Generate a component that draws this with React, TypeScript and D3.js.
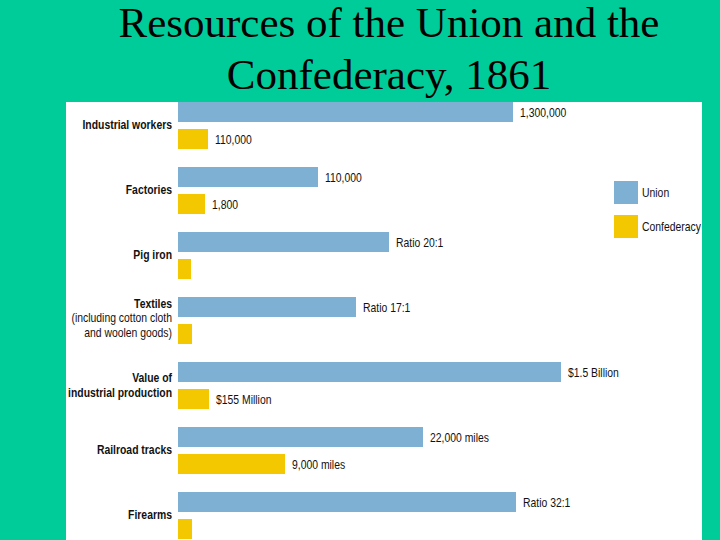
import React from "react";
import * as d3 from "d3";

const categories = [
  "Industrial workers",
  "Factories",
  "Pig iron",
  "Textiles",
  "Value of industrial production",
  "Railroad tracks",
  "Firearms",
];
const categoryLines: string[][] = [
  ["Industrial workers"],
  ["Factories"],
  ["Pig iron"],
  ["Textiles", "(including cotton cloth", "and woolen goods)"],
  ["Value of", "industrial production"],
  ["Railroad tracks"],
  ["Firearms"],
];
const series = ["Union", "Confederacy"];
// relative bar lengths as drawn in the original graphic
const unionValues = [335, 140, 211, 178, 383, 245, 338];
const confederacyValues = [30, 27, 13, 14, 31, 107, 14];
const unionLabels = ["1,300,000", "110,000", "Ratio 20:1", "Ratio 17:1", "$1.5 Billion", "22,000 miles", "Ratio 32:1"];
const confederacyLabels = ["110,000", "1,800", "", "", "$155 Million", "9,000 miles", ""];
const titleLines = ["Resources of the Union and the", "Confederacy, 1861"];

const COLORS: Record<string, string> = { Union: "#7DB0D3", Confederacy: "#F4C800" };
const SANS = "'Liberation Sans', Arial, sans-serif";
const SQUEEZE = 0.8;

function NarrowText(props: {
  x: number;
  y: number;
  anchor?: "start" | "end" | "middle";
  bold?: boolean;
  children: string;
}) {
  return (
    <text
      transform={`translate(${props.x},${props.y}) scale(${SQUEEZE},1)`}
      dominantBaseline="central"
      textAnchor={props.anchor || "start"}
      fontFamily={SANS}
      fontSize={13}
      fontWeight={props.bold ? "bold" : "normal"}
      fill="#111"
    >
      {props.children}
    </text>
  );
}

export default function App() {
  const W = 720, H = 540;
  const x = d3.scaleLinear().domain([0, 400]).range([178, 578]);
  const y = d3.scaleBand<string>().domain(categories).range([102, 102 + 65 * categories.length]).paddingInner(0).paddingOuter(0);
  const ySub = d3.scaleBand<string>().domain(series).range([0, 47]).paddingInner(7 / 27).paddingOuter(0);
  const valuesBySeries: Record<string, number[]> = { Union: unionValues, Confederacy: confederacyValues };
  const labelsBySeries: Record<string, string[]> = { Union: unionLabels, Confederacy: confederacyLabels };

  return (
    <svg width={W} height={H} style={{ position: "absolute", left: 0, top: 0, display: "block" }}>
      <rect x={0} y={0} width={W} height={H} fill="#00CC99" />
      {titleLines.map((t, i) => (
        <text key={t} x={389} y={37 + i * 52} textAnchor="middle" fontFamily="'Liberation Serif', 'Times New Roman', serif" fontSize={43} fill="#000">
          {t}
        </text>
      ))}
      <rect x={66} y={102} width={636} height={438} fill="#fff" />
      <defs>
        <clipPath id="panel">
          <rect x={66} y={102} width={636} height={438} />
        </clipPath>
      </defs>
      <g clipPath="url(#panel)">
        {categories.map((c, i) => {
          const g0 = y(c)!;
          const lines = categoryLines[i];
          const lh = 14.5;
          const cy = g0 + 22.5 - (lines.length > 2 ? 2 : 0);
          return (
            <g key={c}>
              {series.map((s) => {
                const v = valuesBySeries[s][i];
                const by = g0 + ySub(s)!;
                const bh = ySub.bandwidth();
                const lbl = labelsBySeries[s][i];
                return (
                  <g key={s}>
                    <rect x={x(0)} y={by} width={x(v) - x(0)} height={bh} fill={COLORS[s]} />
                    {lbl && <NarrowText x={x(v) + 7} y={by + bh / 2}>{lbl}</NarrowText>}
                  </g>
                );
              })}
              {lines.map((ln, j) => (
                <NarrowText
                  key={ln}
                  x={172}
                  y={cy + (j - (lines.length - 1) / 2) * lh}
                  anchor="end"
                  bold={j === 0 || lines.length === 2}
                >
                  {ln}
                </NarrowText>
              ))}
            </g>
          );
        })}
        {series.map((s, i) => (
          <g key={s}>
            <rect x={614} y={181 + i * 34} width={24} height={23} fill={COLORS[s]} />
            <NarrowText x={642} y={192.5 + i * 34}>{s}</NarrowText>
          </g>
        ))}
      </g>
    </svg>
  );
}
